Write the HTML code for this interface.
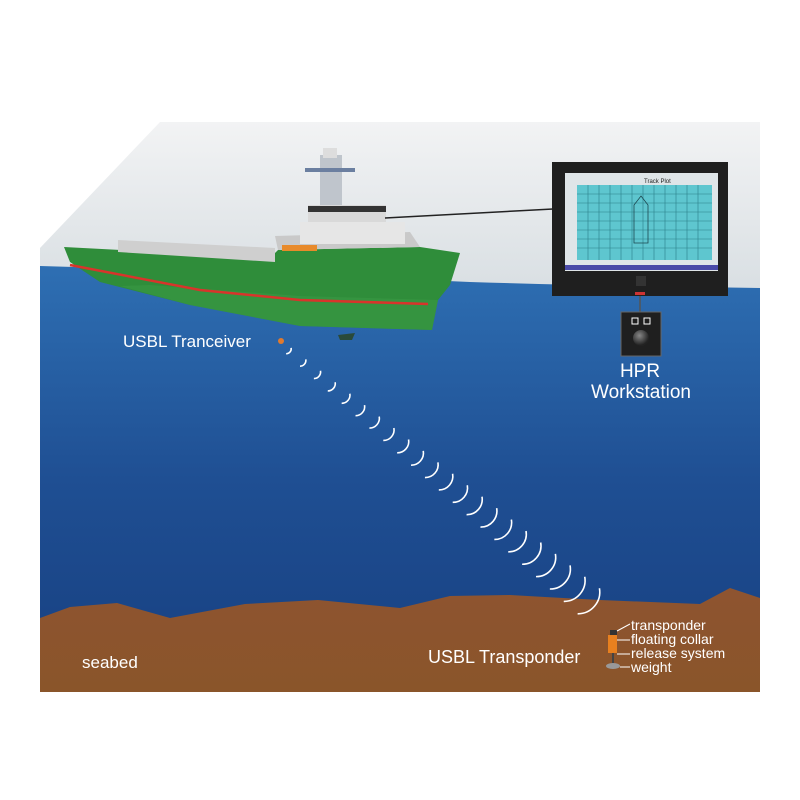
<!DOCTYPE html>
<html><head><meta charset="utf-8"><style>
body{margin:0;background:#fff;}
svg{display:block;}
text{font-family:"Liberation Sans",sans-serif;fill:#fff;}
</style></head><body>
<svg width="800" height="800" viewBox="0 0 800 800" xmlns="http://www.w3.org/2000/svg">
<defs>
<linearGradient id="sky" x1="0" y1="0" x2="0" y2="1"><stop offset="0" stop-color="#f2f3f4"/><stop offset="1" stop-color="#d9dfe3"/></linearGradient>
<linearGradient id="sea" x1="0" y1="0" x2="0" y2="1"><stop offset="0" stop-color="#2e6fb3"/><stop offset="0.5" stop-color="#1f4f93"/><stop offset="1" stop-color="#173f80"/></linearGradient>
<linearGradient id="bed" x1="0" y1="0" x2="0" y2="1"><stop offset="0" stop-color="#8e5430"/><stop offset="1" stop-color="#8a552a"/></linearGradient>
<radialGradient id="ball" cx="0.4" cy="0.35" r="0.6"><stop offset="0" stop-color="#888"/><stop offset="1" stop-color="#222"/></radialGradient>
<path id="arc" d="M-0.36,-0.77 A1,1 0 0 1 -0.36,0.77" fill="none" stroke="#fff" stroke-width="1.6" vector-effect="non-scaling-stroke"/>
</defs>
<polygon points="40,248 160,122 760,122 760,290 40,290" fill="url(#sky)"/>
<path d="M40,266 Q250,272 470,282 Q600,286 760,288 L760,692 L40,692 Z" fill="url(#sea)"/>
<polygon points="40,618 70,607 117,603 170,618 245,604 318,600 400,608 450,596 510,595 545,597 600,600 700,604 730,588 760,598 760,692 40,692" fill="url(#bed)"/>
<!-- ship -->
<polygon points="64,247 270,258 278,250 420,247 460,253 450,285 438,300 432,330 300,326 190,305 100,282 70,262" fill="#2f8d3a"/>
<polygon points="120,286 190,305 300,326 432,330 438,300 300,296 150,285" fill="#3a9a45" opacity="0.6"/>
<polyline points="70,265 200,290 300,300 428,304" fill="none" stroke="#d8342b" stroke-width="2.5"/>
<polygon points="118,240 275,248 275,262 118,252" fill="#cfcfcf"/>
<polygon points="275,236 410,232 420,247 278,250" fill="#c9c9c9"/>
<rect x="300" y="222" width="105" height="22" fill="#e6e6e6"/>
<rect x="308" y="205" width="78" height="17" fill="#d9d9d9"/>
<rect x="308" y="206" width="78" height="6" fill="#333"/>
<rect x="320" y="155" width="22" height="50" fill="#bfc5cc"/>
<rect x="305" y="168" width="50" height="4" fill="#6b7fa0"/>
<rect x="323" y="148" width="14" height="10" fill="#ddd"/>
<rect x="282" y="245" width="35" height="6" fill="#e88a2a"/>
<polygon points="338,335 355,333 352,340 340,340" fill="#2a4a3a"/>
<!-- cable -->
<line x1="385" y1="218" x2="553" y2="209" stroke="#222" stroke-width="1.5"/>
<!-- monitor -->
<rect x="552" y="162" width="176" height="134" fill="#1f1f1f"/>
<rect x="565" y="173" width="153" height="98" fill="#dfe5e8"/>
<rect x="577" y="185" width="135" height="75" fill="#5ec6cf"/>
<g stroke="#2a7e88" stroke-width="0.6">
<line x1="577" y1="194" x2="712" y2="194"/><line x1="577" y1="203" x2="712" y2="203"/><line x1="577" y1="212" x2="712" y2="212"/><line x1="577" y1="221" x2="712" y2="221"/><line x1="577" y1="230" x2="712" y2="230"/><line x1="577" y1="239" x2="712" y2="239"/><line x1="577" y1="248" x2="712" y2="248"/>
<line x1="588" y1="185" x2="588" y2="260"/><line x1="599" y1="185" x2="599" y2="260"/><line x1="610" y1="185" x2="610" y2="260"/><line x1="621" y1="185" x2="621" y2="260"/><line x1="632" y1="185" x2="632" y2="260"/><line x1="643" y1="185" x2="643" y2="260"/><line x1="654" y1="185" x2="654" y2="260"/><line x1="665" y1="185" x2="665" y2="260"/><line x1="676" y1="185" x2="676" y2="260"/><line x1="687" y1="185" x2="687" y2="260"/><line x1="698" y1="185" x2="698" y2="260"/>
</g>
<polygon points="641,196 648,205 648,243 634,243 634,205" fill="none" stroke="#1c4850" stroke-width="0.8"/>
<text x="644" y="183" font-size="6" style="fill:#222">Track Plot</text>
<rect x="565" y="265" width="153" height="5" fill="#4a4aa8"/>
<rect x="636" y="276" width="10" height="10" fill="#333"/>
<rect x="635" y="292" width="10" height="3" fill="#c33"/>
<line x1="640" y1="296" x2="640" y2="312" stroke="#555" stroke-width="1.5"/>
<rect x="621" y="312" width="40" height="44" fill="#1f1f1f" stroke="#666" stroke-width="1"/>
<rect x="632" y="318" width="6" height="6" fill="none" stroke="#fff" stroke-width="1"/>
<rect x="644" y="318" width="6" height="6" fill="none" stroke="#fff" stroke-width="1"/>
<circle cx="641" cy="338" r="8" fill="url(#ball)"/>
<text x="640" y="377" font-size="19" text-anchor="middle">HPR</text>
<text x="641" y="398" font-size="19" text-anchor="middle">Workstation</text>
<!-- tranceiver -->
<text x="123" y="347" font-size="17">USBL Tranceiver</text>
<circle cx="281" cy="341" r="3" fill="#e07a2e"/>
<g>
<use href="#arc" transform="translate(290,352) rotate(40.5) scale(5)"/>
<use href="#arc" transform="translate(304.5,364.1) rotate(40.5) scale(5.8)"/>
<use href="#arc" transform="translate(319,376.2) rotate(40.5) scale(6.6)"/>
<use href="#arc" transform="translate(333.5,388.3) rotate(40.5) scale(7.4)"/>
<use href="#arc" transform="translate(348,400.4) rotate(40.5) scale(8.2)"/>
<use href="#arc" transform="translate(362.5,412.5) rotate(40.5) scale(9)"/>
<use href="#arc" transform="translate(377,424.6) rotate(40.5) scale(9.8)"/>
<use href="#arc" transform="translate(391.5,436.7) rotate(40.5) scale(10.6)"/>
<use href="#arc" transform="translate(406,448.8) rotate(40.5) scale(11.4)"/>
<use href="#arc" transform="translate(420.5,460.9) rotate(40.5) scale(12.2)"/>
<use href="#arc" transform="translate(435,473) rotate(40.5) scale(13)"/>
<use href="#arc" transform="translate(449.5,485.1) rotate(40.5) scale(13.8)"/>
<use href="#arc" transform="translate(464,497.2) rotate(40.5) scale(14.6)"/>
<use href="#arc" transform="translate(478.5,509.3) rotate(40.5) scale(15.4)"/>
<use href="#arc" transform="translate(493,521.4) rotate(40.5) scale(16.2)"/>
<use href="#arc" transform="translate(507.5,533.5) rotate(40.5) scale(17)"/>
<use href="#arc" transform="translate(522,545.6) rotate(40.5) scale(17.8)"/>
<use href="#arc" transform="translate(536.5,557.7) rotate(40.5) scale(18.6)"/>
<use href="#arc" transform="translate(551,569.8) rotate(40.5) scale(19.4)"/>
<use href="#arc" transform="translate(565.5,581.9) rotate(40.5) scale(20.2)"/>
<use href="#arc" transform="translate(580,594) rotate(40.5) scale(21)"/>
<use href="#arc" transform="translate(594.5,606.1) rotate(40.5) scale(21.8)"/>
</g>
<!-- seabed labels -->
<text x="82" y="668" font-size="17">seabed</text>
<text x="428" y="663" font-size="18">USBL Transponder</text>
<rect x="610" y="630" width="7" height="5" fill="#333"/>
<rect x="608" y="635" width="9" height="18" fill="#e8801f"/>
<rect x="612" y="653" width="2" height="10" fill="#444"/>
<ellipse cx="613" cy="666" rx="7" ry="3" fill="#999"/>
<g stroke="#fff" stroke-width="1">
<line x1="617" y1="631" x2="630" y2="624"/>
<line x1="617" y1="640" x2="630" y2="640"/>
<line x1="617" y1="654" x2="630" y2="654"/>
<line x1="620" y1="667" x2="630" y2="667"/>
</g>
<g font-size="14">
<text x="631" y="630">transponder</text>
<text x="631" y="644">floating collar</text>
<text x="631" y="658">release system</text>
<text x="631" y="672">weight</text>
</g>
</svg>
</body></html>
